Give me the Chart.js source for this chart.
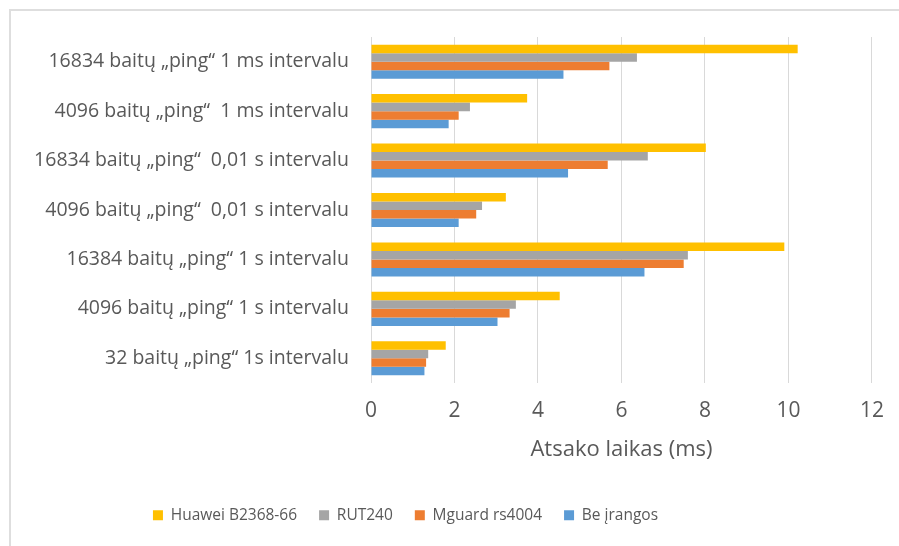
<!DOCTYPE html>
<html>
<head>
<meta charset="utf-8">
<script src="https://cdn.jsdelivr.net/npm/chart.js@4/dist/chart.umd.min.js"></script>
<style>
  html, body { margin: 0; padding: 0; background: #fff; overflow: hidden; }
  #frame { position: absolute; left: 9px; top: 9px; width: 1000px; height: 1000px; border: 2px solid #dedede; }
  #wrap { position: absolute; left: 0; top: 0; width: 899px; height: 546px; }
</style>
</head>
<body>
<div id="frame"></div>
<div id="wrap"><canvas id="pingChart" width="899" height="546"></canvas></div>
<script>
// test cases, top to bottom
var tests = [
    "16834 baitų „ping“ 1 ms intervalu",
    "4096 baitų „ping“  1 ms intervalu",
    "16834 baitų „ping“  0,01 s intervalu",
    "4096 baitų „ping“  0,01 s intervalu",
    "16384 baitų „ping“ 1 s intervalu",
    "4096 baitų „ping“ 1 s intervalu",
    "32 baitų „ping“ 1s intervalu"
];

// response time, ms
var huawei = [10.22, 3.74, 8.02, 3.23, 9.90, 4.52, 1.79];
var rut240 = [6.37, 2.37, 6.63, 2.66, 7.59, 3.47, 1.37];
var mguard = [5.71, 2.10, 5.67, 2.52, 7.49, 3.32, 1.32];
var beIrangos = [4.61, 1.86, 4.72, 2.10, 6.55, 3.03, 1.28];

var xTicks = [0, 2, 4, 6, 8, 10, 12];

var textColor = '#595959';
var fontName = '"Open Sans", "Noto Sans", sans-serif';

// moves the legend a bit to the left of the canvas centre
var legendShift = {
    id: 'legendShift',
    afterLayout: function (chart) {
        chart.legend.right -= 62;
    }
};

var makeSet = function (label, data, color) {
    return {
        label: label,
        data: data,
        backgroundColor: color,
        borderWidth: 0,
        categoryPercentage: 0.69,
        barPercentage: 1
    };
};

new Chart(document.getElementById('pingChart'), {
    type: 'bar',
    data: {
        labels: tests,
        datasets: [
            makeSet('Huawei B2368-66', huawei, '#FFC000'),
            makeSet('RUT240', rut240, '#A5A5A5'),
            makeSet('Mguard rs4004', mguard, '#ED7D31'),
            makeSet('Be įrangos', beIrangos, '#5B9BD5')
        ]
    },
    options: {
        indexAxis: 'y',
        responsive: false,
        animation: false,
        layout: { padding: { top: 37, right: 26, left: 0, bottom: 13 } },
        plugins: {
            tooltip: { enabled: false },
            legend: {
                position: 'bottom',
                labels: {
                    boxWidth: 10,
                    boxHeight: 10,
                    padding: 22,
                    color: textColor,
                    font: { family: fontName, size: 15.5 }
                }
            }
        },
        scales: {
            x: {
                min: 0,
                max: 12,
                afterBuildTicks: function (scale) {
                    scale.ticks = xTicks.map(function (v) { return { value: v }; });
                },
                afterFit: function (scale) { scale.height = 102.5; },
                grid: { color: '#d9d9d9', lineWidth: 1, drawTicks: false },
                border: { display: false },
                ticks: {
                    padding: 15,
                    color: textColor,
                    font: { family: fontName, size: 21 }
                },
                title: {
                    display: true,
                    text: 'Atsako laikas (ms)',
                    color: textColor,
                    font: { family: fontName, size: 22 },
                    padding: { top: 0, bottom: 23 }
                }
            },
            y: {
                afterFit: function (scale) { scale.width = 371; },
                grid: { display: false, drawTicks: false },
                border: { display: false },
                ticks: {
                    padding: 22,
                    color: textColor,
                    font: { family: fontName, size: 19.5 }
                }
            }
        }
    },
    plugins: [legendShift]
});
</script>
</body>
</html>
